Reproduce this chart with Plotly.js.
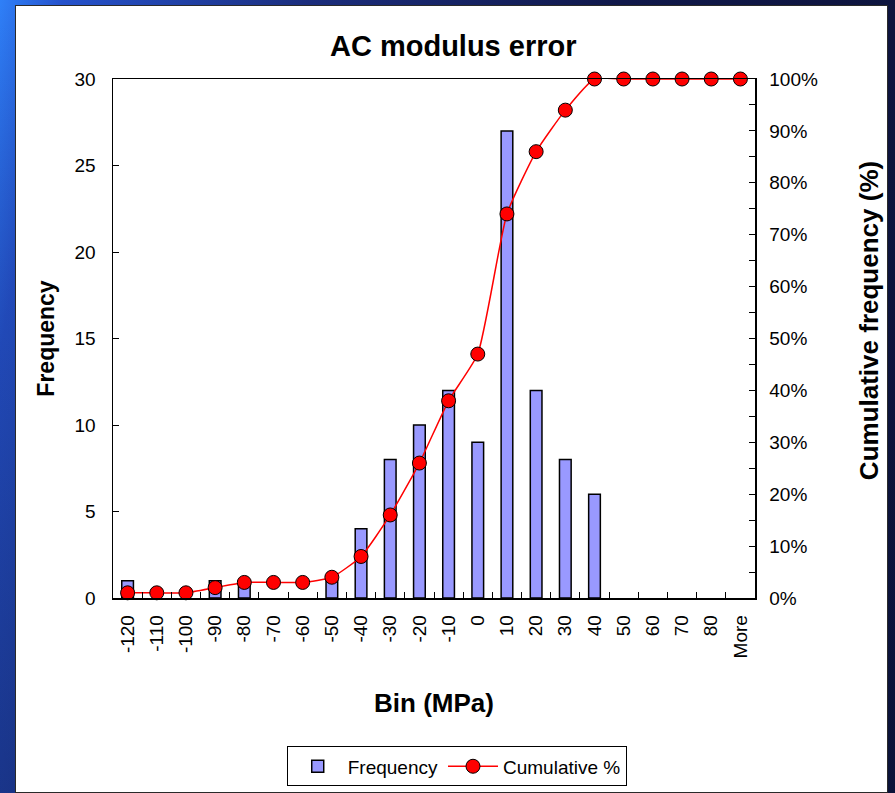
<!DOCTYPE html>
<html>
<head>
<meta charset="utf-8">
<script src="https://cdn.plot.ly/plotly-3.0.1.min.js"></script>
<style>
  html, body { margin:0; padding:0; width:895px; height:793px; overflow:hidden; }
  body {
    background:
      linear-gradient(180deg, rgba(0,0,0,0) 0%, rgba(10,20,60,0.35) 100%),
      linear-gradient(100deg, #2f80f8 0%, #2552cc 6%, #1b2d7c 30%, #10184a 60%, #0c1238 100%);
    position: relative;
  }
  #panel {
    position:absolute; left:15px; top:5px; width:873px; height:788px;
    background:#ffffff; border:1px solid #2a2a2a; box-sizing:border-box;
  }
  #chart { position:absolute; left:0; top:0; width:871px; height:786px; }
</style>
</head>
<body>
<div id="panel"><div id="chart"></div></div>
<script>
const bins = ["-120","-110","-100","-90","-80","-70","-60","-50","-40","-30","-20","-10","0","10","20","30","40","50","60","70","80","More"];
const frequency = [1,0,0,1,1,0,0,1,4,8,10,12,9,27,12,8,6,0,0,0,0,0];
const cumulativePct = [1,1,1,2,3,3,3,4,8,16,26,38,47,74,86,94,100,100,100,100,100,100];

const fontFam = "Liberation Sans, Arial, sans-serif";

const traces = [
  {
    type: 'bar', name: 'Frequency', x: bins, y: frequency, width: 0.4,
    marker: { color: '#9999ff', line: { color: '#000000', width: frequency.map(v => v > 0 ? 1.5 : 0) } },
    yaxis: 'y'
  },
  {
    type: 'scatter', mode: 'lines+markers', name: 'Cumulative %', x: bins, y: cumulativePct,
    line: { color: '#ff0000', width: 1.5, shape: 'spline', smoothing: 0.5 },
    marker: { color: '#ff0000', size: 14, line: { color: '#000000', width: 1 } },
    yaxis: 'y2', cliponaxis: false
  }
];

const layout = {
  width: 871, height: 786,
  margin: { l: 97, r: 132, t: 73, b: 194 },
  paper_bgcolor: 'rgba(0,0,0,0)', plot_bgcolor: '#ffffff',
  font: { family: fontFam, size: 19, color: '#000000' },
  showlegend: true,
  title: { text: '<b>AC modulus error</b>', x: 0.502, xanchor: 'center', y: 0.949, yanchor: 'middle',
           font: { family: fontFam, size: 29, color: '#000' } },
  xaxis: {
    type: 'category', range: [-0.5, 21.5], tickangle: -90, showline: true, linecolor: '#000', linewidth: 1.5,
    mirror: true, ticks: 'inside', tickson: 'boundaries', ticklen: 6, tickcolor: '#000',
    showgrid: false, zeroline: false, automargin: false,
    title: { text: '<b>Bin (MPa)</b>', font: { family: fontFam, size: 26 }, standoff: 36 },
    tickfont: { size: 19 }, ticklabelstandoff: 8
  },
  yaxis: {
    range: [0, 30], dtick: 5, ticks: 'inside', ticklen: 6, tickcolor: '#000',
    showline: true, linecolor: '#000', linewidth: 1.5, showgrid: false, zeroline: false, automargin: false,
    title: { text: '<b>Frequency</b>', font: { family: fontFam, size: 23 }, standoff: 13 },
    ticklabelstandoff: 12, tickfont: { size: 19 }
  },
  yaxis2: {
    overlaying: 'y', side: 'right', range: [0, 100], dtick: 10, ticksuffix: '%',
    ticks: 'inside', ticklen: 6, tickcolor: '#000',
    minor: { dtick: 5, ticks: 'inside', ticklen: 6, tickcolor: '#000' },
    showline: true, linecolor: '#000', linewidth: 1.5, showgrid: false, zeroline: false, automargin: false,
    ticklabelstandoff: 9, tickfont: { size: 19 }
  },
  annotations: [
    { text: '<b>Cumulative frequency (%)</b>', xref: 'paper', yref: 'paper', x: 1.178, y: 0.534,
      xanchor: 'center', yanchor: 'middle', textangle: -90, showarrow: false,
      font: { family: fontFam, size: 26, color: '#000' } }
  ],
  legend: {
    orientation: 'h', xref: 'container', yref: 'container', x: 0.506, xanchor: 'center', y: 0.058, yanchor: 'top',
    bordercolor: '#000', borderwidth: 1, bgcolor: '#fff',
    font: { family: fontFam, size: 19 }, itemwidth: 50
  },
  bargap: 0.6
};

Plotly.newPlot('chart', traces, layout, { displayModeBar: false, staticPlot: true });
</script>
</body>
</html>
